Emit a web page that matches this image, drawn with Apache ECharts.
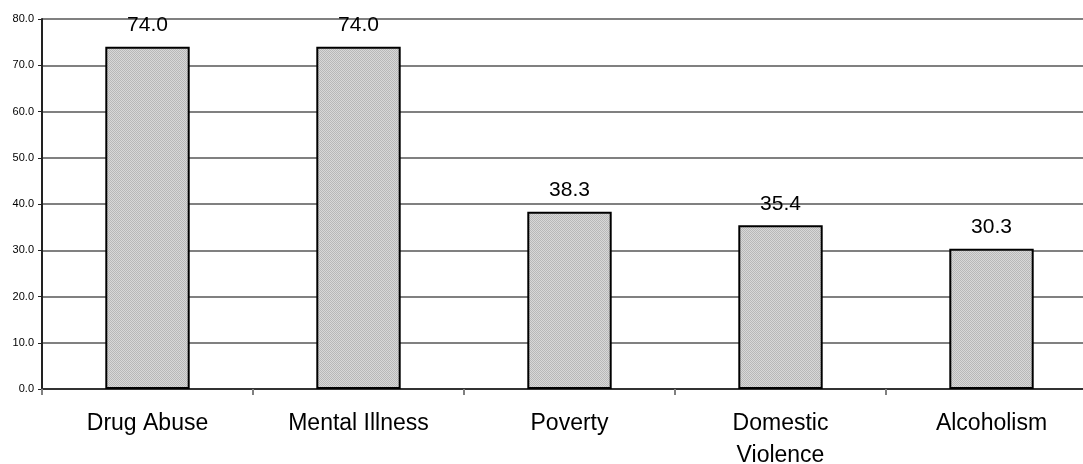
<!DOCTYPE html>
<html>
<head>
<meta charset="utf-8">
<script src="https://cdn.jsdelivr.net/npm/echarts@6/dist/echarts.min.js"></script>
<style>
  html, body { margin: 0; padding: 0; background: #fff; }
  #chart { width: 1083px; height: 464px; }
</style>
</head>
<body>
<div id="chart"></div>
<script>
// Chart data
const categories = ['Drug Abuse', 'Mental Illness', 'Poverty', 'Domestic\nViolence', 'Alcoholism'];
const values = [74.0, 74.0, 38.3, 35.4, 30.3];
const yTicks = [0, 10, 20, 30, 40, 50, 60, 70, 80];

// Fine dithered gray fill for the bars
function makePattern() {
  const c = document.createElement('canvas');
  c.width = 2; c.height = 2;
  const ctx = c.getContext('2d');
  ctx.fillStyle = '#d8d8d8';
  ctx.fillRect(0, 0, 2, 2);
  ctx.fillStyle = '#b8b8b8';
  ctx.fillRect(0, 0, 1, 1);
  ctx.fillRect(1, 1, 1, 1);
  return c;
}

const chart = echarts.init(document.getElementById('chart'), null, { renderer: 'canvas' });
const fontFamily = 'Liberation Sans, Arial, sans-serif';

chart.setOption({
  animation: false,
  grid: { left: 42, top: 19, bottom: 75, width: 1055, containLabel: false, outerBoundsMode: 'none' },
  xAxis: {
    type: 'category',
    data: categories,
    axisLine: { lineStyle: { color: '#333', width: 2 } },
    axisTick: { show: true, length: 6, lineStyle: { color: '#808080', width: 2 } },
    axisLabel: { color: '#000', fontSize: 23, fontFamily, margin: 19, lineHeight: 32 }
  },
  yAxis: {
    type: 'value',
    min: yTicks[0],
    max: yTicks[yTicks.length - 1],
    interval: 10,
    axisLine: { show: true, lineStyle: { color: '#222', width: 2 } },
    axisTick: { show: true, length: 4, lineStyle: { color: '#222', width: 1 } },
    axisLabel: { color: '#000', fontSize: 11, fontFamily, margin: 8, formatter: v => v.toFixed(1) },
    splitLine: { lineStyle: { color: '#808080', width: 2 } }
  },
  series: [{
    type: 'bar',
    data: values,
    barWidth: '40%',
    itemStyle: {
      color: { image: makePattern(), repeat: 'repeat' },
      borderColor: '#000',
      borderWidth: 2
    },
    label: {
      show: true,
      position: 'top',
      distance: 11,
      color: '#000',
      fontSize: 21,
      fontFamily,
      formatter: p => p.value.toFixed(1)
    }
  }]
});
</script>
</body>
</html>
